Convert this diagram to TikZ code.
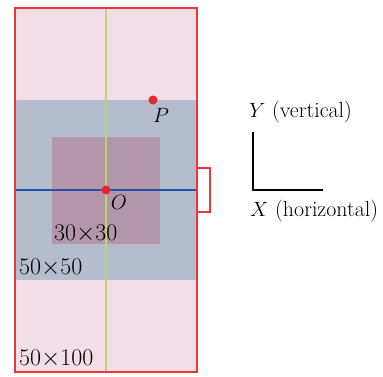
\documentclass[tikz,border=0pt]{standalone}
\usepackage{fontspec}
\begin{document}
\begin{tikzpicture}[x=1bp,y=-1bp,
  lbl/.style={font=\fontsize{22}{24}\selectfont, inner sep=0pt},
  numlbl/.style={font=\fontsize{24}{26}\selectfont, inner sep=0pt, anchor=west},
  dot/.style={circle, fill=ptred, inner sep=0pt, minimum size=9bp}]
\definecolor{pinkbg}{RGB}{242,222,230}
\definecolor{graybg}{RGB}{180,189,203}
\definecolor{mauve}{RGB}{180,150,170}
\definecolor{redline}{RGB}{236,56,60}
\definecolor{ptred}{RGB}{232,36,44}
\definecolor{greenline}{RGB}{182,214,120}
\definecolor{blueline}{RGB}{36,82,170}
\useasboundingbox (0,0) rectangle (383,377);
% regions
\fill[pinkbg] (15,8) rectangle (197,372);
\fill[graybg] (15,100) rectangle (197,280);
\fill[mauve] (52,137) rectangle (160,244);
% axes lines
\draw[greenline, line width=1.4bp] (106,8) -- (106,372);
\draw[blueline, line width=1.6bp] (15,190) -- (197,190);
% outer frame
\draw[redline, line width=2bp] (15,8) rectangle (197,372);
\draw[redline, line width=2bp] (197,168) -- (210,168) -- (210,212) -- (197,212);
% points
\node[dot] (O) at (106,190) {};
\node[dot] (P) at (153,100) {};
\node[lbl] (Ol) at (119,202) {$O$};
\node[lbl] (Pl) at (161,115) {$P$};
% size labels
\node[numlbl] (l30) at (54,234) {30$\times$30};
\node[numlbl] (l50) at (19,268) {50$\times$50};
\node[numlbl] (l100) at (19,359) {50$\times$100};
% coordinate legend
\coordinate (ytop) at (253,132);
\coordinate (corner) at (253,190);
\coordinate (xend) at (323,190);
\draw[black, line width=1.5bp] (ytop) -- (corner) -- (xend);
\node[lbl, anchor=west] (Yl) at (249,112) {$Y$ (vertical)};
\node[lbl, anchor=west] (Xl) at (250,211) {$X$ (horizontal)};
\end{tikzpicture}
\end{document}
